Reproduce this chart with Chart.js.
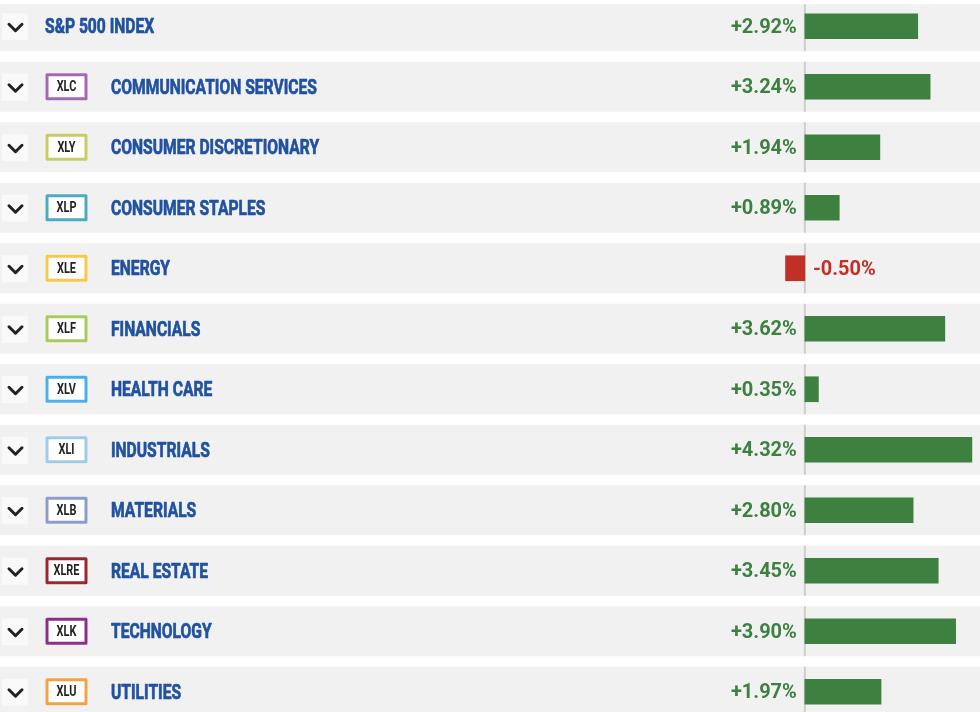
<!DOCTYPE html>
<html>
<head>
<meta charset="utf-8">
<script src="https://cdn.jsdelivr.net/npm/chart.js@4/dist/chart.umd.min.js"></script>
<style>
    html, body { margin: 0; padding: 0; background: #ffffff; overflow: hidden; }
    #wrap { position: absolute; left: 0; top: -4px; width: 980px; height: 726px; }
</style>
</head>
<body>
<div id="wrap"><canvas id="sectorChart" width="980" height="726"></canvas></div>
<script>
// ========== DATA ==========
const sectors = [
    "S&P 500 INDEX", "COMMUNICATION SERVICES", "CONSUMER DISCRETIONARY", "CONSUMER STAPLES",
    "ENERGY", "FINANCIALS", "HEALTH CARE", "INDUSTRIALS", "MATERIALS",
    "REAL ESTATE", "TECHNOLOGY", "UTILITIES"
];
const tickers = ["", "XLC", "XLY", "XLP", "XLE", "XLF", "XLV", "XLI", "XLB", "XLRE", "XLK", "XLU"];
const changes = [2.92, 3.24, 1.94, 0.89, -0.50, 3.62, 0.35, 4.32, 2.80, 3.45, 3.90, 1.97];

// ticker badge border colours
const tickerColors = [
    null, "#a368b2", "#c9cc5e", "#4cabbd", "#f7c84c", "#a8cb5c",
    "#4cb0e6", "#9ecbea", "#8c9ccb", "#9a2630", "#8c2e8e", "#f4a143"
];

const upColor = "#3d8040";
const downColor = "#c12f27";
const labelBlue = "#2152a0";

// draw text squeezed horizontally (condensed look), optional stroke to make it heavier
function condensedText(ctx, text, x, y, squeeze, align, heavy) {
    ctx.save();
    ctx.translate(x, y);
    ctx.scale(squeeze, 1);
    ctx.textAlign = align || "left";
    ctx.fillText(text, 0, 0);
    if (heavy) {
        ctx.strokeStyle = ctx.fillStyle;
        ctx.lineWidth = heavy;
        ctx.lineJoin = "round";
        ctx.strokeText(text, 0, 0);
    }
    ctx.restore();
}

// ========== ROW DECORATION PLUGIN ==========
const rowsPlugin = {
    id: "rows",
    beforeDatasetsDraw(chart) {
        const ctx = chart.ctx;
        const yScale = chart.scales.y;
        const xScale = chart.scales.x;
        const zeroX = xScale.getPixelForValue(0);

        sectors.forEach((name, i) => {
            const cy = yScale.getPixelForValue(i);
            const top = i === 0 ? cy - 22 : cy - 25;
            ctx.fillStyle = "#f1f1f1";
            ctx.fillRect(0, top, chart.width, cy + 25 - top);

            // zero line
            ctx.fillStyle = "#cdcdcd";
            ctx.fillRect(zeroX - 1, top, 2, cy + 25 - top);

            // chevron button
            ctx.fillStyle = "#f9f9f9";
            ctx.fillRect(2, cy - 13, 26, 27);
            ctx.strokeStyle = "#222222";
            ctx.lineWidth = 3;
            ctx.lineCap = "round";
            ctx.lineJoin = "round";
            ctx.beginPath();
            ctx.moveTo(9, cy - 2);
            ctx.lineTo(15.5, cy + 4.5);
            ctx.lineTo(22, cy - 2);
            ctx.stroke();

            let textX = 45;
            if (tickers[i]) {
                ctx.fillStyle = "#ffffff";
                ctx.fillRect(45.5, cy - 13.5, 42, 27);
                ctx.strokeStyle = tickerColors[i];
                ctx.lineWidth = 3;
                ctx.strokeRect(47, cy - 12, 39, 24);
                ctx.fillStyle = "#222222";
                ctx.font = "bold 14px Roboto";
                ctx.textBaseline = "middle";
                condensedText(ctx, tickers[i], 66.5, cy + 1, 0.78, "center");
                textX = 111;
            }

            ctx.fillStyle = labelBlue;
            ctx.font = "bold 21px Roboto";
            ctx.textBaseline = "middle";
            condensedText(ctx, name, textX, cy + 1.5, 0.745, "left", 0.7);
        });
    },
    afterDatasetsDraw(chart) {
        const ctx = chart.ctx;
        const yScale = chart.scales.y;
        const zeroX = chart.scales.x.getPixelForValue(0);
        ctx.save();
        ctx.font = "bold 20px Roboto";
        ctx.textBaseline = "middle";
        changes.forEach((v, i) => {
            const cy = yScale.getPixelForValue(i);
            if (v >= 0) {
                ctx.fillStyle = upColor;
                ctx.textAlign = "right";
                ctx.fillText("+" + v.toFixed(2) + "%", zeroX - 8, cy + 1.5);
            } else {
                ctx.fillStyle = downColor;
                ctx.textAlign = "left";
                ctx.fillText(v.toFixed(2) + "%", zeroX + 8, cy + 1.5);
            }
        });
        ctx.restore();
    }
};

// ========== CHART ==========
const ctx = document.getElementById("sectorChart").getContext("2d");
const sectorChart = new Chart(ctx, {
    type: "bar",
    data: {
        labels: sectors,
        datasets: [
            {
                data: changes,
                backgroundColor: changes.map(v => (v >= 0 ? upColor : downColor)),
                borderWidth: 0,
                barThickness: 25
            }
        ]
    },
    options: {
        indexAxis: "y",
        responsive: false,
        animation: false,
        layout: { padding: 0 },
        plugins: {
            legend: { display: false },
            tooltip: { enabled: false }
        },
        scales: {
            x: {
                display: false,
                min: -20.82,
                max: 4.53
            },
            y: {
                display: false
            }
        }
    },
    plugins: [rowsPlugin]
});
</script>
</body>
</html>
